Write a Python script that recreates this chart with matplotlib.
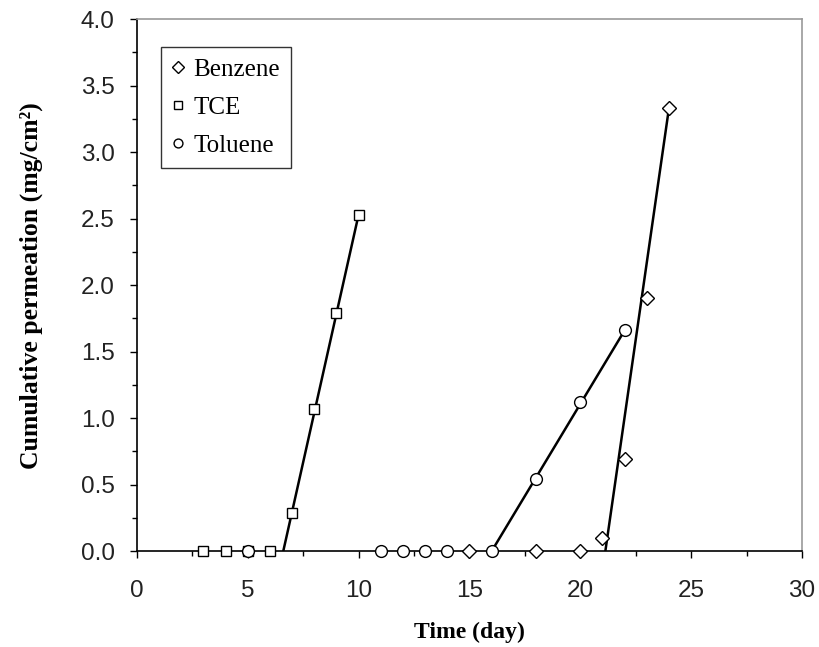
import numpy as np
import matplotlib
matplotlib.use("Agg")
import matplotlib.pyplot as plt

# datos
dias_benceno = [15, 18, 20, 21, 22, 23, 24]
perm_benceno = [0.0, 0.0, 0.0, 0.10, 0.69, 1.90, 3.33]

dias_tce = [3, 4, 5, 6, 7, 8, 9, 10]
perm_tce = [0.0, 0.0, 0.0, 0.0, 0.29, 1.07, 1.79, 2.53]

dias_tolueno = [5, 11, 12, 13, 14, 16, 18, 20, 22]
perm_tolueno = [0.0, 0.0, 0.0, 0.0, 0.0, 0.0, 0.54, 1.12, 1.66]

# inicio de cada recta (tiempo de retardo, dia)
lag_benceno = 21.13
lag_tce = 6.6
lag_tolueno = 16.0

fig = plt.figure(figsize=(8.2, 6.47), dpi=100)
ax = fig.add_axes([0.167, 0.148, 0.811, 0.8226])

# rectas de ajuste
ax.plot([lag_tce, dias_tce[-1]], [0, perm_tce[-1]], color="black", lw=1.8, zorder=2)
ax.plot([lag_tolueno, dias_tolueno[-1]], [0, perm_tolueno[-1]], color="black", lw=1.8, zorder=2)
ax.plot([lag_benceno, dias_benceno[-1]], [0, perm_benceno[-1]], color="black", lw=1.8, zorder=2)

# puntos
ax.plot(dias_benceno, perm_benceno, linestyle="none", marker="D", ms=7.5, mfc="white",
        mec="black", mew=1.0, label="Benzene", zorder=3, clip_on=False)
ax.plot(dias_tce, perm_tce, linestyle="none", marker="s", ms=7.5, mfc="white",
        mec="black", mew=1.0, label="TCE", zorder=3, clip_on=False)
ax.plot(dias_tolueno, perm_tolueno, linestyle="none", marker="o", ms=8.5, mfc="white",
        mec="black", mew=1.0, label="Toluene", zorder=4, clip_on=False)

ax.set_xlim(0, 30)
ax.set_ylim(0, 4.0)
ax.set_xticks(np.arange(0, 31, 5))
ax.set_xticks(np.arange(0, 31, 2.5), minor=True)
ax.set_yticks(np.arange(0, 4.01, 0.5))
ax.set_yticks(np.arange(0, 4.01, 0.25), minor=True)
ax.set_yticklabels([f"{v:.1f}" for v in np.arange(0, 4.01, 0.5)])

ax.tick_params(axis="both", which="major", direction="out", length=5, width=1,
               labelsize=17.5, labelcolor="#222222")
ax.tick_params(axis="both", which="minor", direction="out", length=3.5, width=1)
ax.tick_params(axis="x", which="major", pad=16)
ax.tick_params(axis="y", which="major", pad=11)
for lab in ax.get_xticklabels() + ax.get_yticklabels():
    lab.set_family("Liberation Sans")

ax.spines["left"].set_color("black")
ax.spines["bottom"].set_color("black")
ax.spines["top"].set_color("#999999")
ax.spines["right"].set_color("#999999")
for s in ax.spines.values():
    s.set_linewidth(1.2)

ax.set_xlabel("Time (day)", family="Liberation Serif", fontweight="bold", fontsize=17, labelpad=14)
ax.set_ylabel("Cumulative permeation (mg/cm²)", family="Liberation Serif", fontweight="bold",
              fontsize=18.5, labelpad=27)

leg = ax.legend(loc="upper left", bbox_to_anchor=(0.036, 0.947), prop={"family": "Liberation Serif", "size": 18},
                frameon=True, fancybox=False, edgecolor="black", markerscale=0.75,
                handlelength=0.5, handletextpad=0.35, borderpad=0.45, labelspacing=0.62,
                borderaxespad=0)
leg.get_frame().set_linewidth(1.0)

fig.savefig("out.png", dpi=100)
plt.close()
